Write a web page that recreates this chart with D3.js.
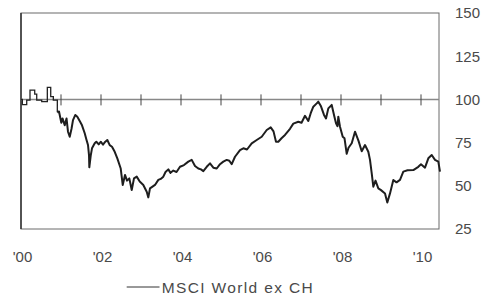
<!DOCTYPE html>
<html>
<head>
<meta charset="utf-8">
<script src="https://cdn.jsdelivr.net/npm/d3@7"></script>
<style>
  html, body { margin: 0; padding: 0; background: #fff; }
  svg { display: block; }
  text { font-family: "Liberation Sans", Arial, sans-serif; fill: #4a4a4a; }
</style>
</head>
<body>
<svg id="chart" width="482" height="303"></svg>
<script>
// ---- data (decimal years, index level) ----
const seriesName = "MSCI World ex CH";
const stepYears = [2000.0, 2000.033, 2000.143, 2000.225, 2000.343, 2000.393, 2000.518, 2000.658, 2000.743, 2000.808];
const stepValues = [100, 97, 99.6, 105.4, 103.1, 99.6, 98.7, 107, 101.6, 99.6];
const years = [
  2000.908, 2000.95, 2001.008, 2001.038, 2001.093, 2001.138, 2001.175, 2001.218, 2001.263, 2001.30,
  2001.358, 2001.408, 2001.468, 2001.525, 2001.593, 2001.633, 2001.675, 2001.70, 2001.708, 2001.743,
  2001.775, 2001.843, 2001.883, 2001.943, 2001.993, 2002.05, 2002.108, 2002.158, 2002.218, 2002.275,
  2002.343, 2002.408, 2002.493, 2002.543, 2002.60, 2002.65, 2002.708, 2002.768, 2002.825, 2002.893,
  2002.968, 2003.058, 2003.143, 2003.183, 2003.225, 2003.288, 2003.35, 2003.433, 2003.493, 2003.558,
  2003.613, 2003.683, 2003.738, 2003.808, 2003.888, 2003.975, 2004.075, 2004.183, 2004.268, 2004.35,
  2004.433, 2004.50, 2004.558, 2004.643, 2004.725, 2004.808, 2004.893, 2004.975, 2005.058, 2005.143,
  2005.208, 2005.268, 2005.35, 2005.475, 2005.558, 2005.65, 2005.768, 2005.893, 2006.018, 2006.143,
  2006.243, 2006.313, 2006.375, 2006.433, 2006.513, 2006.60, 2006.725, 2006.808, 2006.933, 2007.013,
  2007.10, 2007.183, 2007.243, 2007.308, 2007.393, 2007.433, 2007.50, 2007.575, 2007.625, 2007.683,
  2007.768, 2007.825, 2007.875, 2007.913, 2007.933, 2007.975, 2008.043, 2008.088, 2008.143, 2008.188,
  2008.268, 2008.35, 2008.438, 2008.518, 2008.60, 2008.683, 2008.725, 2008.768, 2008.808, 2008.863,
  2008.933, 2009.00, 2009.10, 2009.158, 2009.225, 2009.308, 2009.388, 2009.475, 2009.558, 2009.663,
  2009.808, 2009.933, 2010.00, 2010.10, 2010.183, 2010.268, 2010.35, 2010.433, 2010.475
];
const values = [
  92.5, 93, 86.5, 89, 85, 89, 81.3, 78.4, 83, 88,
  91, 90, 87.5, 85, 80.4, 77, 73.6, 67.8, 60.7, 67.5,
  71.7, 74.6, 75.5, 74, 75.5, 73.8, 75.5, 76.5, 73.5, 72.6,
  69.7, 65.9, 60, 50.5, 56.3, 53, 54.3, 47.6, 54.3, 55.3,
  52.5, 50.5, 46.6, 43.3, 48.5, 49.5, 50.5, 53.4, 54, 55.3,
  58, 59.5, 57.5, 58.8, 58, 61, 62, 64, 65, 61.5,
  60, 59.5, 58.5, 61, 63, 60.5, 60, 62.5, 64, 65,
  64.5, 62.5, 66.8, 70.7, 71.7, 71, 74.6, 76.5, 78.4, 82.3,
  83.8, 81.5, 75.5, 75.5, 77.5, 79.4, 83, 86, 87.1, 86.5,
  90.5, 87.5, 92, 95.8, 97.7, 98.7, 96, 91, 89, 94.8,
  96.8, 91, 86.2, 84.5, 90, 84.2, 78.4, 77.5, 68.5, 72,
  74.6, 81.3, 76, 70, 73.6, 69.7, 65, 57.2, 49.5, 53,
  48.5, 47.5, 45.6, 40.3, 45.6, 53.4, 52, 53.4, 58.2, 59,
  59.1, 61, 62.5, 60.5, 65.9, 67.8, 65, 64, 58.2
];
const xTickYears = [2000, 2002, 2004, 2006, 2008, 2010];
const xTickLabels = ["'00", "'02", "'04", "'06", "'08", "'10"];
const yearMarks = [2001, 2002, 2003, 2004, 2005, 2006, 2007, 2008, 2009, 2010];
const yTicks = [25, 50, 75, 100, 125, 150];
const baseValue = 100;

// ---- layout ----
const L = 21, R = 439, T = 13, B = 229;
const svg = d3.select("#chart");
const x = d3.scaleLinear().domain([2000, 2010.45]).range([L, R]);
const y = d3.scaleLinear().domain([25, 150]).range([B, T]);

// frame
svg.append("rect").attr("x", L).attr("y", T).attr("width", R - L).attr("height", B - T)
  .attr("fill", "none").attr("stroke", "#6a6a6a").attr("stroke-width", 1);
svg.append("line").attr("x1", L).attr("x2", L).attr("y1", T).attr("y2", B)
  .attr("stroke", "#333").attr("stroke-width", 1.5);

// base line at 100
svg.append("line").attr("x1", L).attr("x2", R).attr("y1", y(baseValue)).attr("y2", y(baseValue))
  .attr("stroke", "#888").attr("stroke-width", 1.5);
svg.append("g").selectAll("line").data(yearMarks).join("line")
  .attr("x1", d => x(d)).attr("x2", d => x(d))
  .attr("y1", y(baseValue) - 5).attr("y2", y(baseValue) + 6)
  .attr("stroke", "#444").attr("stroke-width", 1);

// series
const stepData = stepYears.map((d, i) => ({ t: d, v: stepValues[i] })).concat([{ t: years[0], v: values[0] }]);
const lineData = years.map((d, i) => ({ t: d, v: values[i] }));
const stepGen = d3.line().x(d => x(d.t)).y(d => y(d.v)).curve(d3.curveStepAfter);
const lineGen = d3.line().x(d => x(d.t)).y(d => y(d.v));
svg.append("path").attr("d", stepGen(stepData)).attr("fill", "none")
  .attr("stroke", "#222").attr("stroke-width", 1.3);
svg.append("path").attr("d", lineGen(lineData)).attr("fill", "none")
  .attr("stroke", "#1e1e1e").attr("stroke-width", 2).attr("stroke-linejoin", "round");

// y axis labels (right)
const yAxis = d3.axisRight(y).tickValues(yTicks).tickSize(0).tickPadding(0);
const gy = svg.append("g").attr("transform", `translate(455,0)`).call(yAxis);
gy.select(".domain").remove();
gy.selectAll("text").style("font-size", "15px").attr("fill", "#4a4a4a")
  .style("font-family", '"Liberation Sans", Arial, sans-serif');

// x axis labels
const xAxis = d3.axisBottom(x).tickValues(xTickYears).tickFormat((d, i) => xTickLabels[i]).tickSize(0).tickPadding(0);
const gx = svg.append("g").attr("transform", `translate(1,251)`).call(xAxis);
gx.select(".domain").remove();
gx.selectAll("text").style("font-size", "15px").attr("fill", "#4a4a4a")
  .style("font-family", '"Liberation Sans", Arial, sans-serif');

// legend
svg.append("line").attr("x1", 126.7).attr("x2", 159.5).attr("y1", 287).attr("y2", 287)
  .attr("stroke", "#333").attr("stroke-width", 1);
svg.append("text").attr("x", 161.7).attr("y", 292.7).style("font-size", "15.5px")
  .attr("textLength", 151).attr("lengthAdjust", "spacing").text(seriesName);
</script>
</body>
</html>
